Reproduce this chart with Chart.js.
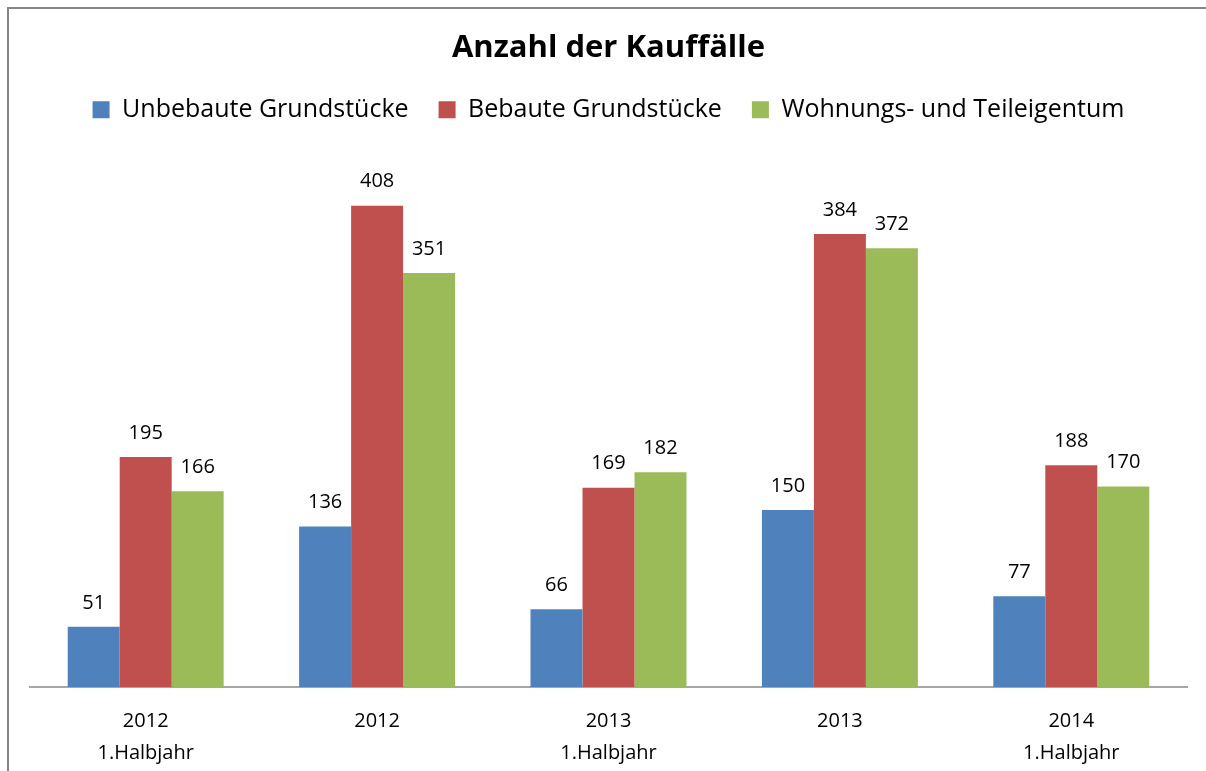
<!DOCTYPE html>
<html>
<head>
<meta charset="utf-8">
<script src="https://cdn.jsdelivr.net/npm/chart.js@4"></script>
<style>
    html, body { margin: 0; padding: 0; background: #fff; }
    #wrap { position: relative; width: 1206px; height: 771px; }
</style>
</head>
<body>
<div id="wrap"><canvas id="kaufChart"></canvas></div>
<script>
// Daten
const kategorien = [
    ['2012', '1.Halbjahr'],
    ['2012', ''],
    ['2013', '1.Halbjahr'],
    ['2013', ''],
    ['2014', '1.Halbjahr']
];
const unbebaut = [51, 136, 66, 150, 77];
const bebaut = [195, 408, 169, 384, 188];
const wohnungen = [166, 351, 182, 372, 170];

const schrift = '"Open Sans", "Noto Sans", sans-serif';

// Rahmen links und oben wie im Original
const rahmenPlugin = {
    id: 'rahmen',
    beforeDraw(chart) {
        const ctx = chart.ctx;
        ctx.save();
        ctx.fillStyle = '#ffffff';
        ctx.fillRect(0, 0, chart.width, chart.height);
        ctx.strokeStyle = '#868686';
        ctx.lineWidth = 2;
        ctx.beginPath();
        ctx.moveTo(8, chart.height);
        ctx.lineTo(8, 8);
        ctx.lineTo(chart.width, 8);
        ctx.stroke();
        ctx.restore();
    }
};

// etwas mehr Abstand unter der Legende
const legendenAbstand = {
    id: 'legendenAbstand',
    beforeInit(chart) {
        const fit = chart.legend.fit;
        chart.legend.fit = function() {
            fit.bind(chart.legend)();
            this.height += 24;
        };
    }
};

// Werte über den Balken
const wertePlugin = {
    id: 'werte',
    afterDatasetsDraw(chart) {
        const ctx = chart.ctx;
        ctx.save();
        ctx.font = '20px ' + schrift;
        ctx.fillStyle = '#000';
        ctx.textAlign = 'center';
        ctx.textBaseline = 'middle';
        chart.data.datasets.forEach((ds, i) => {
            chart.getDatasetMeta(i).data.forEach((bar, j) => {
                ctx.fillText(ds.data[j], bar.x, bar.y - 24);
            });
        });
        ctx.restore();
    }
};

new Chart(document.getElementById('kaufChart'), {
    type: 'bar',
    data: {
        labels: kategorien,
        datasets: [
            { label: 'Unbebaute Grundstücke', data: unbebaut, backgroundColor: '#4F81BD' },
            { label: 'Bebaute Grundstücke', data: bebaut, backgroundColor: '#C0504D' },
            { label: 'Wohnungs- und Teileigentum', data: wohnungen, backgroundColor: '#9BBB59' }
        ]
    },
    options: {
        responsive: true,
        maintainAspectRatio: false,
        animation: false,
        layout: { padding: { left: 30, right: 19, top: 0, bottom: -16 } },
        datasets: { bar: { categoryPercentage: 0.674, barPercentage: 1 } },
        scales: {
            y: { display: false, min: 0, max: 450 },
            x: {
                grid: { display: false, drawTicks: false },
                border: { display: true, color: '#a6a6a6', width: 2 },
                ticks: {
                    color: '#000',
                    padding: 18,
                    font: { family: schrift, size: 20, lineHeight: 1.6 }
                }
            }
        },
        plugins: {
            title: {
                display: true,
                text: 'Anzahl der Kauffälle',
                color: '#000',
                font: { family: schrift, size: 31, weight: 'bold' },
                padding: { top: 30, bottom: 0 }
            },
            legend: {
                display: true,
                labels: {
                    color: '#000',
                    boxWidth: 17,
                    boxHeight: 17,
                    padding: 30,
                    font: { family: schrift, size: 25 }
                }
            },
            tooltip: { enabled: false }
        }
    },
    plugins: [rahmenPlugin, legendenAbstand, wertePlugin]
});
</script>
</body>
</html>
